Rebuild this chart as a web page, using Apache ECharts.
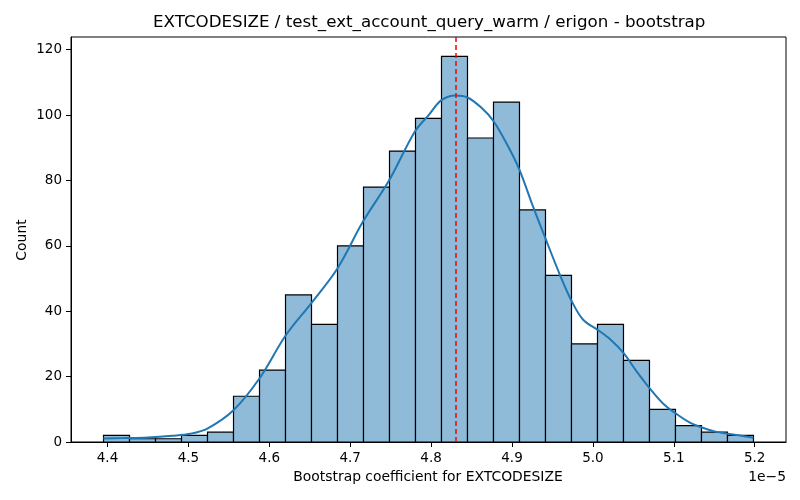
<!DOCTYPE html>
<html>
<head>
<meta charset="utf-8">
<script src="https://cdn.jsdelivr.net/npm/echarts@6/dist/echarts.min.js"></script>
<style>
  html, body { margin: 0; padding: 0; background: #fff; }
  #main { width: 800px; height: 500px; }
</style>
</head>
<body>
<div id="main"></div>
<script>
// x values are in units of 1e-5
const binMin = 4.3951;
const binMax = 5.1985;
const counts = [2, 1, 1, 2, 3, 14, 22, 45, 36, 60, 78, 89, 99, 118, 93, 104, 71, 51, 30, 36, 25, 10, 5, 3, 2];

// kde curve
const kdeX = [4.395, 4.42, 4.45, 4.48, 4.502, 4.524, 4.556, 4.588, 4.62, 4.652, 4.684, 4.716, 4.748, 4.78, 4.797,
  4.8125, 4.83, 4.845, 4.862, 4.877, 4.894, 4.909, 4.925, 4.941, 4.96, 4.974, 4.988, 5.006, 5.021, 5.038,
  5.054, 5.07, 5.087, 5.102, 5.12, 5.134, 5.153, 5.182, 5.1985];
const kdeY = [1.1, 1.2, 1.4, 1.9, 2.5, 4.2, 9.8, 19.5, 32.5, 42.5, 53, 67.5, 80, 95, 100,
  104.5, 106, 105.4, 102.3, 98.2, 91, 83.4, 72.7, 62.5, 50.7, 43, 37.4, 34.3, 31.5, 27.2,
  21.6, 16.5, 11.7, 8.8, 5.9, 4.5, 3.1, 2.0, 1.3];

const meanValue = 4.8265;
const xTicks = [4.4, 4.5, 4.6, 4.7, 4.8, 4.9, 5.0, 5.1, 5.2];
const yTicks = [0, 20, 40, 60, 80, 100, 120];

const binWidth = (binMax - binMin) / counts.length;
const bins = counts.map((c, i) => [binMin + i * binWidth, binMin + (i + 1) * binWidth, c]);
const kde = kdeX.map((x, i) => [x, kdeY[i]]);

const FONT = 'DejaVu Sans';
const chart = echarts.init(document.getElementById('main'));

chart.setOption({
  animation: false,
  backgroundColor: '#fff',
  textStyle: { fontFamily: FONT },
  grid: {
    left: 71, right: 14, top: 37, bottom: 58,
    show: true, borderColor: '#000', borderWidth: 1, backgroundColor: 'transparent'
  },
  xAxis: {
    type: 'value',
    min: 4.3549,
    max: 5.2387,
    splitLine: { show: false },
    axisLine: { show: true, onZero: false, lineStyle: { color: '#000', width: 1 } },
    axisTick: { show: true, length: 5, customValues: xTicks, lineStyle: { color: '#000' } },
    axisLabel: {
      customValues: xTicks, margin: 9, color: '#000', fontSize: 13.5, fontFamily: FONT,
      formatter: v => v.toFixed(1)
    }
  },
  yAxis: {
    type: 'value',
    min: 0,
    max: 123.9,
    splitLine: { show: false },
    axisLine: { show: true, lineStyle: { color: '#000', width: 1 } },
    axisTick: { show: true, length: 5, customValues: yTicks, lineStyle: { color: '#000' } },
    axisLabel: { customValues: yTicks, margin: 9, color: '#000', fontSize: 13.5, fontFamily: FONT }
  },
  series: [
    {
      type: 'custom',
      data: bins,
      encode: { x: [0, 1], y: 2 },
      renderItem: function (params, api) {
        const p0 = api.coord([api.value(0), api.value(2)]);
        const p1 = api.coord([api.value(1), 0]);
        return {
          type: 'rect',
          shape: { x: p0[0], y: p0[1], width: p1[0] - p0[0], height: p1[1] - p0[1] },
          style: { fill: '#8fbbd9', stroke: '#000', lineWidth: 1.2 }
        };
      },
      z: 2
    },
    {
      type: 'line',
      data: kde,
      smooth: 0.35,
      showSymbol: false,
      lineStyle: { color: '#1f77b4', width: 2 },
      z: 3
    },
    {
      type: 'line',
      data: [],
      z: 4,
      markLine: {
        silent: true,
        symbol: 'none',
        label: { show: false },
        emphasis: { disabled: true },
        lineStyle: { color: '#ff0000', type: [5, 3], width: 1.5, opacity: 1 },
        data: [{ xAxis: meanValue }]
      }
    }
  ],
  graphic: [
    {
      type: 'text', left: 428 - 275, top: 14,
      style: { text: 'EXTCODESIZE / test_ext_account_query_warm / erigon - bootstrap', fontSize: 16.7, fontFamily: FONT, fill: '#000' }
    },
    {
      type: 'text', x: 428, y: 477,
      style: { text: 'Bootstrap coefficient for EXTCODESIZE', fontSize: 13.9, fontFamily: FONT, fill: '#000', align: 'center', verticalAlign: 'middle' }
    },
    {
      type: 'text', x: 786, y: 477,
      style: { text: '1e\u22125', fontSize: 13.9, fontFamily: FONT, fill: '#000', align: 'right', verticalAlign: 'middle' }
    },
    {
      type: 'text', x: 22, y: 240, rotation: Math.PI / 2,
      style: { text: 'Count', fontSize: 13.9, fontFamily: FONT, fill: '#000', align: 'center', verticalAlign: 'middle' }
    }
  ]
});
</script>
</body>
</html>
